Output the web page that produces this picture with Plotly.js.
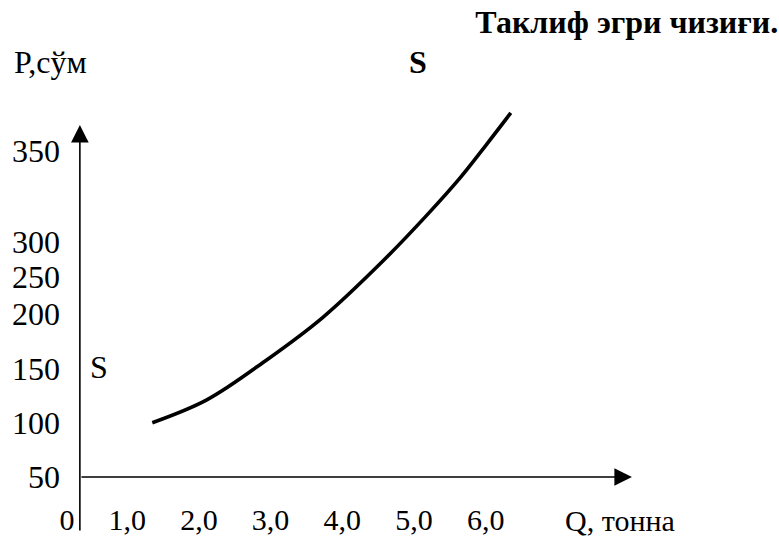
<!DOCTYPE html>
<html><head><meta charset="utf-8">
<script src="https://cdn.plot.ly/plotly-3.0.1.min.js"></script>
<style>html,body{margin:0;padding:0;background:#fff}#chart{width:779px;height:539px}</style>
</head><body><div id="chart"></div>
<script>
// Supply curve S: quantity Q (tonnes) vs price P (sum)
const quantity = [1.35, 2.11, 2.95, 3.73, 4.57, 5.18, 5.64, 6.00, 6.35];
const price    = [100, 121, 158, 197, 249, 291, 325, 355, 385];
const xTickVals = [0.16, 1, 2, 3, 4, 5, 6];
const xTickText = ['0', '1,0', '2,0', '3,0', '4,0', '5,0', '6,0'];
const yTickVals = [50, 100, 150, 200, 234, 266, 350];
const yTickText = ['50', '100', '150', '200', '250', '300', '350'];
const xAxisName = 'Q, тонна';
const yAxisName = 'P,сўм';
const chartTitle = 'Таклиф эгри чизиғи.';
const seriesName = 'S';

const xOrigin = 0.34, yOrigin = 50, yArrowTop = 374, xArrowEnd = 8.04;
const FONT = '"Liberation Serif", "Times New Roman", serif';
const FS = 32, FSX = 30;

const trace = {
  x: quantity, y: price, type: 'scatter', mode: 'lines',
  line: {color: '#000', width: 3.6, shape: 'spline', smoothing: 1},
  hoverinfo: 'skip', showlegend: false
};

const layout = {
  width: 779, height: 539,
  margin: {l: 0, r: 0, t: 0, b: 40},
  paper_bgcolor: '#fff', plot_bgcolor: '#fff',
  font: {family: FONT, size: FS, color: '#000'},
  title: {text: '<b>' + chartTitle + '</b>', x: 0.999, xref: 'paper', xanchor: 'right',
          y: 1 - 22/539, yref: 'container', yanchor: 'middle',
          font: {family: FONT, size: FS, color: '#000'}},
  showlegend: false,
  xaxis: {range: [-0.774, 10.091], showgrid: false, zeroline: false, showline: false,
          ticks: '', tickvals: xTickVals, ticktext: xTickText,
          tickfont: {family: FONT, size: FSX, color: '#000'}, fixedrange: true},
  yaxis: {range: [29.8, 488.9], anchor: 'free', position: 80/779, side: 'left',
          showgrid: false, zeroline: false, showline: false,
          ticks: '', tickvals: yTickVals, ticktext: yTickText, ticklabelstandoff: 20,
          tickfont: {family: FONT, size: FS, color: '#000'}, fixedrange: true},
  annotations: [
    {x: xOrigin, y: yArrowTop, xref: 'x', yref: 'y', ax: 0, ay: 407, text: '',
     showarrow: true, arrowhead: 2, arrowsize: 2.2, arrowwidth: 1.6, arrowcolor: '#000', standoff: 0},
    {x: xArrowEnd, y: yOrigin, xref: 'x', yref: 'y', ax: -552, ay: 0, text: '',
     showarrow: true, arrowhead: 2, arrowsize: 2.2, arrowwidth: 1.6, arrowcolor: '#000', standoff: 0},
    {x: 0.61, y: 151, xref: 'x', yref: 'y', text: seriesName, showarrow: false,
     font: {family: FONT, size: FS, color: '#000'}},
    {x: 5.06, y: 432, xref: 'x', yref: 'y', text: '<b>' + seriesName + '</b>', showarrow: false,
     font: {family: FONT, size: FS, color: '#000'}},
    {x: 12/779, y: (499-62)/499, xref: 'paper', yref: 'paper', xanchor: 'left', yanchor: 'middle',
     text: yAxisName, showarrow: false, font: {family: FONT, size: FS, color: '#000'}},
    {x: 7.08, y: -(520-499)/499, xref: 'x', yref: 'paper', xanchor: 'left', yanchor: 'middle',
     text: xAxisName, showarrow: false, font: {family: FONT, size: FSX, color: '#000'}}
  ]
};

Plotly.newPlot('chart', [trace], layout, {displayModeBar: false, staticPlot: true});
</script></body></html>
